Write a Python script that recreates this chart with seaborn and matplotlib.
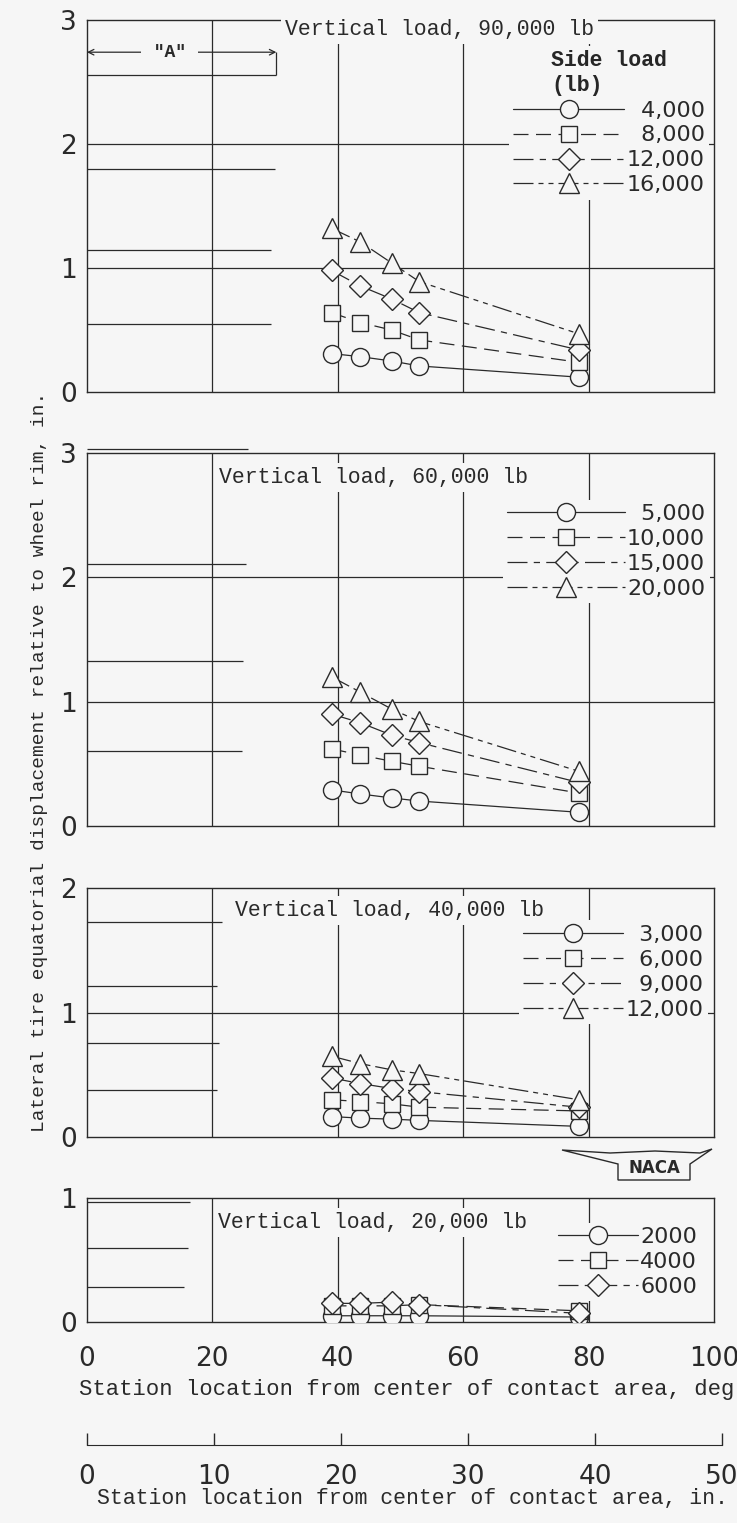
import numpy as np
import pandas as pd
import seaborn as sns
import matplotlib.pyplot as plt
from matplotlib.patches import Polygon

# -----------------------------
# data
# -----------------------------
stations = [39.0, 43.6, 48.6, 53.0, 78.4]   # deg from center of contact area

side_90 = ["4,000", "8,000", "12,000", "16,000"]
disp_90 = [[0.31, 0.285, 0.25, 0.21, 0.12],
           [0.64, 0.56, 0.50, 0.42, 0.24],
           [0.98, 0.855, 0.75, 0.64, 0.34],
           [1.32, 1.21, 1.04, 0.89, 0.47]]

side_60 = ["5,000", "10,000", "15,000", "20,000"]
disp_60 = [[0.29, 0.257, 0.225, 0.20, 0.11],
           [0.62, 0.57, 0.52, 0.48, 0.265],
           [0.90, 0.83, 0.73, 0.67, 0.35],
           [1.20, 1.076, 0.94, 0.84, 0.44]]

side_40 = ["3,000", "6,000", "9,000", "12,000"]
disp_40 = [[0.165, 0.152, 0.144, 0.134, 0.086],
           [0.30, 0.285, 0.267, 0.24, 0.21],
           [0.475, 0.43, 0.39, 0.365, 0.24],
           [0.65, 0.59, 0.54, 0.51, 0.30]]

side_20 = ["2000", "4000", "6000"]
disp_20 = [[0.05, 0.05, 0.05, 0.05, 0.04],
           [0.13, 0.13, 0.13, 0.14, 0.09],
           [0.15, 0.15, 0.16, 0.14, 0.07]]

# left-hand reference lines (height, right end in deg)
ref_y_90 = [2.555, 1.80, 1.146, 0.55]
ref_x_90 = [30.2, 30.0, 29.4, 29.4]
ref_y_60 = [3.03, 2.11, 1.325, 0.605]
ref_x_60 = [25.7, 25.3, 24.9, 24.7]
ref_y_40 = [1.73, 1.21, 0.757, 0.376]
ref_x_40 = [21.6, 20.7, 21.1, 20.7]
ref_y_20 = [0.97, 0.60, 0.28]
ref_x_20 = [16.4, 16.1, 15.5]

deg_ticks = [0, 20, 40, 60, 80, 100]
in_ticks = [0, 10, 20, 30, 40, 50]

# -----------------------------
# style
# -----------------------------
sns.set_style("white")
plt.rcParams['font.family'] = ['DejaVu Sans']
mono = 'Liberation Mono'
ink = '#2a2a2a'
bg = '#f6f6f6'

markers = ['o', 's', 'D', '^']
msizes = [13, 12, 11, 14]
styles = ['-', (0, (12, 6)), (0, (16, 5, 5, 5)), (0, (16, 4, 4, 4, 4, 4))]

fig = plt.figure(figsize=(7.37, 15.23), dpi=100, facecolor=bg)

L, W = 0.118, 0.8508
ax1 = fig.add_axes([L, 0.7426, W, 0.2443])
ax2 = fig.add_axes([L, 0.4577, W, 0.2449])
ax3 = fig.add_axes([L, 0.2534, W, 0.1635])
ax4 = fig.add_axes([L, 0.1320, W, 0.0814])


def draw_panel(ax, side, disp, ymax, ref_y, ref_x, title, title_xy, anchor, hlen, leg_title=None):
    ax.set_facecolor(bg)
    ax.set_xlim(0, 100)
    ax.set_ylim(0, ymax)
    for xv in [20, 40, 60, 80]:
        ax.axvline(xv, color=ink, lw=0.9, zorder=1)
    for yv in range(1, ymax):
        ax.axhline(yv, color=ink, lw=0.9, zorder=1)
    ax.hlines(ref_y, 0, ref_x, color=ink, lw=0.9, zorder=1, clip_on=False)

    handles = []
    for i, (lab, vals) in enumerate(zip(side, disp)):
        sns.lineplot(x=stations, y=vals, ax=ax, color=ink, lw=0.9,
                     linestyle=styles[i], marker=markers[i], markersize=msizes[i],
                     markerfacecolor=bg, markeredgecolor=ink, markeredgewidth=1.0,
                     zorder=4, legend=False)
        handles.append(ax.lines[-1])

    ax.text(title_xy[0], title_xy[1], title, family=mono, fontsize=15.5,
            color=ink, ha='left', va='center', zorder=3,
            bbox=dict(facecolor=bg, edgecolor='none', pad=3))

    # right-align the labels with figure spaces
    n = max(len(s) for s in side)
    labels = ['\u2007' * (n - len(s)) + s for s in side]
    leg = ax.legend(handles, labels, loc='upper right', bbox_to_anchor=anchor,
                    handlelength=hlen, handletextpad=0.1, labelspacing=0.22,
                    borderpad=0.2, borderaxespad=0, fontsize=16, frameon=True,
                    facecolor=bg, edgecolor='none', framealpha=1, title=leg_title,
                    title_fontproperties=dict(family=mono, size=15.5, weight='bold'))
    leg.set_zorder(2)
    for t in leg.get_texts():
        t.set_color(ink)

    for s in ax.spines.values():
        s.set_color(ink)
        s.set_linewidth(1.0)
    ax.set_yticks(range(0, ymax + 1))
    ax.tick_params(axis='y', length=0, pad=7, labelsize=19, labelcolor=ink)
    ax.tick_params(axis='x', length=0, labelbottom=False)
    ax.set_xlabel('')
    ax.set_ylabel('')
    return leg


draw_panel(ax1, side_90, disp_90, 3, ref_y_90, ref_x_90,
           "Vertical load, 90,000 lb", (31.6, 2.92), (0.992, 0.93), 5.0,
           leg_title="Side load\n(lb)")
draw_panel(ax2, side_60, disp_60, 3, ref_y_60, ref_x_60,
           "Vertical load, 60,000 lb", (21.0, 2.80), (0.993, 0.875), 5.3)
draw_panel(ax3, side_40, disp_40, 2, ref_y_40, ref_x_40,
           "Vertical load, 40,000 lb", (23.6, 1.82), (0.99, 0.87), 4.5)
draw_panel(ax4, side_20, disp_20, 1, ref_y_20, ref_x_20,
           "Vertical load, 20,000 lb", (20.9, 0.80), (0.98, 0.80), 3.6)

# "A" dimension in top panel
a_y, a_x = 2.74, ref_x_90[0]
ax1.annotate('', xy=(0, a_y), xytext=(a_x, a_y),
             arrowprops=dict(arrowstyle='<->', color=ink, lw=0.9, shrinkA=0, shrinkB=0))
ax1.vlines(a_x, ref_y_90[0], a_y, color=ink, lw=0.9)
ax1.text(13.2, a_y, ' "A" ', family=mono, fontsize=13, weight='bold', color=ink,
         ha='center', va='center', bbox=dict(facecolor=bg, edgecolor='none', pad=1))

# bottom axis: degrees
ax4.set_xticks(deg_ticks)
ax4.tick_params(axis='x', length=0, pad=17, labelsize=19, labelcolor=ink, labelbottom=True)
fig.text(407 / 737, 1 - 1390 / 1523, "Station location from center of contact area, deg",
         family=mono, fontsize=16, color=ink, ha='center', va='center')

# secondary scale in inches
axi = fig.add_axes([L, 0.0512, 0.8616, 0.0001])
axi.set_facecolor('none')
axi.set_xlim(0, 50)
axi.set_yticks([])
axi.set_xticks(in_ticks)
for k in ['top', 'left', 'right']:
    axi.spines[k].set_visible(False)
axi.spines['bottom'].set_color(ink)
axi.tick_params(axis='x', bottom=True, direction='in', length=9, width=1, color=ink,
                pad=14, labelsize=19, labelcolor=ink)
fig.text(412 / 737, 1 - 1499 / 1523, "Station location from center of contact area, in.",
         family=mono, fontsize=15.5, color=ink, ha='center', va='center')

# y label
fig.text(40 / 737, 0.4997, "Lateral tire equatorial displacement relative to wheel rim, in.",
         family=mono, fontsize=14, color=ink, rotation=90, ha='center', va='center')

# NACA mark
wing = [(562, 1150), (610, 1153), (655, 1151), (700, 1153), (712, 1149), (690, 1164),
        (690, 1180), (618, 1180), (618, 1164)]
fig.add_artist(Polygon([(x / 737, 1 - y / 1523) for x, y in wing], closed=True,
                       fill=False, edgecolor=ink, lw=1.0, transform=fig.transFigure))
fig.text(654 / 737, 1 - 1168 / 1523, "NACA", fontsize=12, weight='bold', color=ink,
         ha='center', va='center')

plt.savefig("out.png", dpi=100, facecolor=bg)
